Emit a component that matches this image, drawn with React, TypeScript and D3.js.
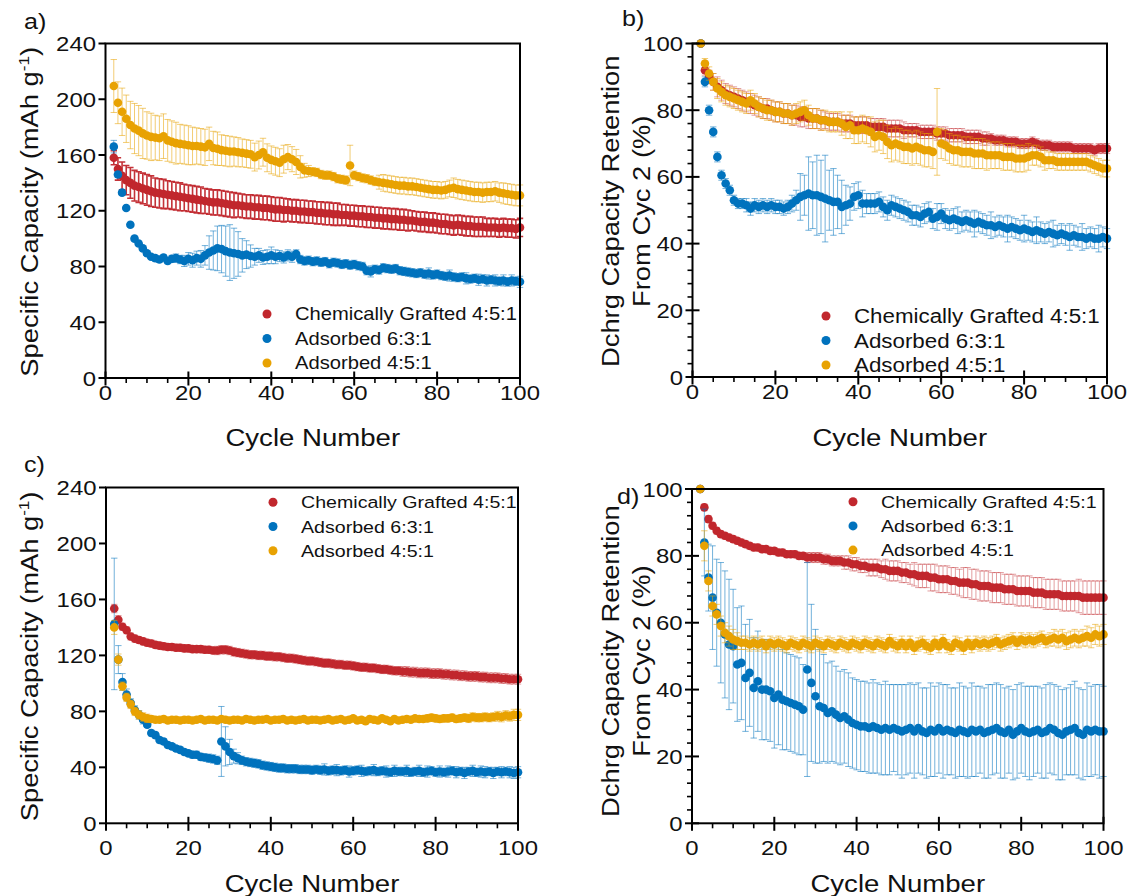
import React from "react";
import * as d3 from "d3";

// ---------- data ----------
const cycles = d3.range(2, 101);
const seriesNames = ["Chemically Grafted 4:5:1", "Adsorbed 6:3:1", "Adsorbed 4:5:1"];
const cycleTicks = [0, 20, 40, 60, 80, 100];
const capacityTicks = [0, 40, 80, 120, 160, 200, 240];
const retentionTicks = [0, 20, 40, 60, 80, 100];

const aRed = [158,150,145,142,140,138,137,136,135,134,
133,132.5,132,131.5,131,130.5,130,129.5,129,128.5,
128,127.5,127,126.5,126,126,125.5,125,124.5,124,
124,123.5,123,123,122.5,122.5,122,122,121.5,121,
121,120.5,120.5,120,120,119.5,119.5,119,119,118.5,
118.5,118,118,117.5,117.5,117,117,116.5,116.5,116,
116,115.5,115.5,115,115,114.5,114.5,114,114,113.5,
113.5,113,113,112.5,112,112,111.5,111.5,111,110.5,
110.5,110,109.5,110,109.5,109,109,108.5,108.5,108.5,
108,108,108,107.5,108,107.5,107.5,107,108];
const aRedErr = [5,8,10,10.5,11,11,11,11,11,11,
10.5,10.5,10.5,10,10,10,10,9.5,9.5,9.5,
9.5,9.5,9,9,9,9,9,9,9,9,
8.5,8.5,8.5,8.5,8.5,8.5,8.5,8.5,8.5,8.5,
8.5,8.5,8,8,8,8,8,8,8,8,
8,8,8,8,8,7.5,7.5,7.5,7.5,7.5,
7.5,7.5,7.5,7.5,7.5,7.5,7.5,7.5,7.5,7.5,
7.5,7.5,7,7,7,7,7,7,7,7,
7,7,7,7,7,7,7,7,7,7,
6.5,6.5,6.5,6.5,6.5,6.5,6.5,6.5,6.5];
const aBlue = [166,146,133,122,110,100,96.5,93,89.5,87,
86,85,86.5,84,85.5,86,85,84,85.5,84.5,
86,85.5,88,90,91.5,93,92.5,91,90,89.5,
89,88,88.5,87.5,87,88,86.5,87,88,87,
87.5,86.5,88,87,89,85,84,84.5,83.5,84,
83,83.5,82,83,82.5,81.5,82,81,81.5,80.5,
80,77,76.5,78,77.5,79,78.5,78,78.5,77,
76.5,76,75.5,75,75.5,74.5,75,74,74.5,73.5,
73,73.5,72.5,72,72.5,71.5,71,71.5,70.5,71,
70,70.5,70,69.5,70,69,70,69.5,69];
const aBlueErr = [4.5,2,1.5,1.5,1.5,1.5,1.5,1.5,1.5,1.5,
2,2,2,2,2.5,3,3,4,4.5,5,
5,6,7,12,14,16,17,18,20,18,
16,12,10,8,6,5,5,5,6,5,
4,4,4,4,3,3,3,3,3,3,
3,3,3,3,3,3,3,3,3,3,
3,3,4,3,3,3,3,3,3,3,
3,3,3,3,3,3,4,3,3,3,
3,4,3,3,3,4,3,3,4,3,
4,3,4,3,4,3,4,3,4];
const aOrange = [209.5,197.5,191,186,181.5,179,177.5,175.5,174,173,
172.5,172,173.5,170.5,169.5,168.5,168,167.5,167,166.5,
166.5,166,165.5,168,165,164.5,163.5,163,162.5,162.5,
162,161.5,161,160.5,158.5,160,162,158,156.5,155.5,
154.5,157,158.5,157,155,151.5,149,148.5,148,147.5,
146,145.5,145.5,144.5,143,142.5,142,152.5,145.5,144.5,
143.5,143,142,141,140.5,140,139.5,139,138.5,138,
138,137.5,137.5,137,136.5,136,135.5,135,135,134.5,
135,136,136.5,135.5,135,134.5,134,133.5,133.5,133,
133.5,133.5,134,133,132.5,132,131.5,131,131];
const aOrangeErr = [19,15,17,17,17,18,18,18,17,17,
16,16,16,15,15,15,14,14,14,13.5,
13,13,13,12,12,12,11,11,11,10.5,
10.5,10,10,10,10,10,10,10,10,10,
10,10,9,9,9,8,5,4,3,3,
3,3,3,3,3,3,3,14.5,3,3,
3,3,3,3,5,6,6,6,6,6,
6,6,6,6,6,6,6,6,6,6,
6,6,7,7,7,7,7,7,7,7,
7,7,7,7,7.5,7.5,7.5,7.5,7.5];

const bRed = [100,92,90,88.5,87,86,85,84.5,84,83.5,
83,82.5,82,81.5,81,80.5,80.5,80,79.5,79.5,
79,79,78.5,78.5,78,78,77.5,77.5,77.5,77,
77,76.5,76.5,76.5,76,76,76,75.5,75.5,75.5,
75.5,75,75,75,75,74.5,74.5,74.5,74.5,74,
74,74,74,73.5,73.5,73.5,73.5,73,73,73,
72.5,72.5,72.5,72.5,72,72,72,72,71.5,71.5,
71.5,71,71,71,70.5,70.5,70.5,70,70,70,
70.5,70,69.5,69.5,69.5,69,69,69,69,69,
68.5,68.5,68.5,68.5,68.5,68,68.5,68.5,68.5];
const bRedErr = [0,1.5,2,2.5,3,3,3,3,3,3,
3,3,3,3,3,3,3,3,3,3,
3,3,3,3,3,3,3,3,3,3,
2.5,2.5,2.5,2.5,2.5,2.5,2.5,2.5,2.5,2.5,
2.5,2.5,2.5,2.5,2.5,2.5,2.5,2.5,2.5,2.5,
2,2,2,2,2,2,2,2,2,2,
2,2,2,2,2,2,2,2,2,2,
1.5,1.5,1.5,1.5,1.5,1.5,1.5,1.5,1.5,1.5,
1.5,1.5,1.5,1.5,1.5,1.5,1.5,1.5,1.5,1.5,
1.5,1.5,1.5,1.5,1.5,1.5,1.5,1.5,1.5];
const bBlue = [100,88.5,80,73.5,66,60.5,58,56,53,52,
52,51.5,50.5,51.5,51,51.5,51,51.5,51,51,
50.5,51,52,53,54,54.5,55,54.5,54.5,54,
53.5,53,52.5,52.5,51,51.5,52,54,54.5,52,
52,52,52,52.5,51,50,51.5,51,50.5,50,
49.5,48.5,48.5,48,49,49.5,47.5,48,49,47.5,
47,47.5,47,46.5,47,46.5,46,46.5,46,45.5,
45.5,45,45.5,45,44.5,45,44.5,44,44.5,44,
43.5,44,43.5,43,43.5,43,42.5,43,42.5,42,
42.5,42,42,41.5,42,41.5,41.5,42,41.5];
const bBlueErr = [0,1.5,1.5,1.5,1.5,1.5,1.5,1.5,1.5,1.5,
1.5,2,2,2,2,2,2,2,2,2,
2,2,2.5,3,7,6,11,10,12,11,
13,9,10,8,8,6,5,4,4,4,
3,3,3,3,3,3,3,3,3,3,
3,3,3,3,3,3,3,4,3,3,
3,3,4,3,3,3,4,3,3,3,
4,3,3,3,4,3,3,3,4,3,
3,4,3,3,3,4,3,3,3,4,
3,3,4,3,3,3,4,3,3];
const bOrange = [100,94,91,88.5,86.5,85.5,84.5,84,83.5,83,
82.5,82,83,82,81,80.5,80,80,79.5,79.5,
79,79,78.5,79,79.5,80,78.5,77.5,77.5,77,
77,76.5,76.5,76.5,76,75,75.5,74,74,74.5,
74,73.5,72,72.5,72,70.5,69.5,70,69.5,69,
69,68.5,69,68.5,68,68,67.5,73.5,70,69.5,
68.5,68,68,67.5,67.5,67.5,67,67,67,66.5,
66.5,66.5,66.5,66,66,66,65.5,65.5,65.5,66,
66.5,66.5,66,65,65,65,64.5,64.5,64.5,64.5,
64.5,64.5,64.5,64.5,64,63.5,63,62.5,62.5];
const bOrangeErr = [0,1.5,2,2.5,3,3,3,3,3,3,
3,3,3,3,3,3,3,3,3,3,
3,3,3,3,3,3,3,3,3,3,
3,3,3,3,3.5,3.5,4,4,4,4,
4,4.5,4.5,4.5,5,5,5,5,5,5,
5,5,5,5,5,5,5,13,4.5,4.5,
4.5,4.5,4.5,4.5,4.5,4.5,4.5,4.5,4.5,4.5,
4,4,4,4,4,4,4,4,4,4,
3,3,3,3,2.5,2.5,2.5,2.5,2.5,2.5,
2.5,2.5,2.5,2.5,2.5,2.5,2.5,2.5,2.5];

const cRed = [153.5,145.5,140.5,138,133.5,132,131,130,129,128.5,
127.5,127,126.5,126,126,125.5,125.5,125,125,124.5,
124.5,124.5,124,124,123.5,123.5,124,124,123.5,122.5,
122,121.5,121,120.5,120.5,120,120,119.5,119.5,119,
119,118.5,118,118,117.5,117,116.5,116,116,115.5,
115,114.5,114.5,114,113.5,113.5,113,113,112.5,112,
111.5,111.5,111,111,110.5,110,110,109.5,109,109,
108.5,108.5,108,108,107.5,107.5,107.5,107,107,107,
106.5,106.5,106,106,105.5,105.5,105,105,105,104.5,
104.5,104,104,104,103.5,103.5,103,103,103];
const cRedErr = [3,3,2.5,2.5,2.5,2.5,2.5,2.5,2.5,2.5,
2.5,2.5,2.5,2.5,2.5,2.5,2.5,2.5,2.5,2.5,
2.5,2.5,2.5,2.5,2.5,3,3,3,3,3,
3,3,3,3,3,3,3,3,3,3,
3,3,3,3,3,3,3,3,3,3,
3,3,3,3,3,3,3,3,3,3,
3,3,3,3,3,3,3,3,3,3,
3.5,3.5,3.5,3.5,3.5,3.5,3.5,3.5,3.5,3.5,
3.5,3.5,3.5,3.5,3.5,3.5,3.5,3.5,3.5,3.5,
3.5,3.5,3.5,3.5,3.5,3.5,3.5,3.5,3.5];
const cBlue = [142.5,117,101,92,86,81,77.5,74,70.5,64.5,
63,59.5,58.5,56,55,53.5,52.5,51,50,49,
49,47.5,47,46.5,46,45,58.5,55,51,48,
46.5,45,44,43.5,43,42.5,41.5,41,40.5,40,
39.5,39.5,39,39,39,38.5,38.5,38.5,38,38.5,
38,38.5,37.5,38,38,37.5,38,37,37.5,38,
37.5,37,37.5,38,37,37.5,37,36.5,37.5,37,
37,37.5,36.5,37,37.5,36.5,37,37.5,36.5,37,
36.5,37,37.5,36.5,37,36,37,37.5,36.5,37,
36.5,37,36,37,36.5,37,36.5,36,36.5];
const cBlueErr = [47,10,6,4,3,3,3,3,2,2,
2,2,2,2,2,2,2,2,2,2.5,
2.5,2.5,2.5,3,3,3,25,14,9,5,
4,3,3,3,3,3,3,3,3,3,
3,3,3,3,3,3,3,3,3,3,
3,4,3,3,4,3,3,4,3,3,
4,3,3,4,3,3,4,3,4,3,
3,4,3,3,4,3,4,3,3,4,
3,4,3,4,3,4,3,4,3,4,
4,3,4,3,4,3,4,4,4];
const cOrange = [140,117,98,90,85,80,77.5,76,75,74.5,
74,74,74.5,73.5,74,74,73.5,74,74,73.5,
74,74.5,73.5,74,74,73.5,74.5,74,73.5,74,
74,73.5,74.5,74,73.5,74,74,74.5,73.5,74,
74,74.5,73.5,74,73.5,74,74.5,73.5,74,74,
73.5,74,74.5,73.5,74,74.5,73.5,74,75,73.5,
74,73,74.5,74,73.5,75,74,73,74.5,73.5,
74,74.5,74,75,74.5,74.5,75,75.5,75,74.5,
75,75,75.5,74.5,75,75.5,75,76,75.5,75.5,
76,75.5,76,76.5,76,77,76.5,77.5,77.5];
const cOrangeErr = [5,4,3,3,3,3,3,3,3,2.5,
2,2,2,2,2,2,2,2,2,2,
2,2,2,2,2,2,2,2,2,2,
2,2,2,2,2,2,2,2,2,2,
2,2,2,2,2,2,2,2,2,2,
2,2,2,2,2,2,2,2,2,2,
2,2,2,2,2,2,2,2,2,2,
2,2,2,2,2,2,2.5,2.5,2.5,2.5,
2.5,2.5,2.5,2.5,2.5,2.5,3,3,3,3,
3,3,3,3.5,3.5,3.5,3.5,4,4];

const dRed = [100,94.5,91,89,87.5,86.5,86,85.5,85,84.5,
84,83.5,83,82.5,82.5,82,82,81.5,81.5,81,
81,80.5,80.5,80.5,80,80,79.5,79.5,79.5,79.5,
79,79,78.5,78.5,78.5,78,78,77.5,77.5,77,
77,76.5,76.5,76.5,76,76,75.5,75.5,75.5,75,
75,74.5,74.5,74,74,74,73.5,73.5,73,73,
73,72.5,72.5,72,72,72,71.5,71.5,71,71,
71,70.5,70.5,70.5,70,70,70,69.5,69.5,69.5,
69.5,69,69,69,68.5,68.5,68.5,68.5,68,68,
68,68,68,67.5,67.5,67.5,67.5,67.5,67.5];
const dRedErr = [0,1,1,1,1,1,1,1,1,1,
1,1,1,1,1,1,1,1,1,1,
1,1,1,1,1,1,1.5,1.5,1.5,1.5,
1.5,1.5,1.5,1.5,1.5,2,2,2,2,2,
2,2.5,2.5,2.5,2.5,3,3,3,3,3,
3,3,3.5,3.5,3.5,3.5,4,4,4,4,
4,4,4,4,4.5,4.5,4.5,4.5,4.5,4.5,
4.5,4.5,4.5,4.5,4.5,4.5,4.5,4.5,4.5,4.5,
4.5,4.5,4.5,4.5,4.5,4.5,4.5,4.5,4.5,4.5,
4.5,4.5,5,5,5,5,5,5,5];
const dBlue = [100,84,73.5,67.5,63,60,56.5,53.5,53,47.5,
48,43.5,45,40.5,42.5,40,40,39.5,37.5,38.5,
37,36.5,36,35.5,35,34,46,42,38,35,
34.5,33,33.5,32.5,31.5,32,31,30,29.5,29,
29,28.5,29,28.5,28,28.5,28,28.5,28,27.5,
28,28.5,27.5,28.5,27.5,27,28,27.5,28.5,27.5,
28,27.5,27,28,27.5,27,28,27.5,28,27,
27.5,28,28.5,27.5,27,28,26.5,27.5,28.5,27.5,
27,27.5,28,27,27.5,28.5,28,27,26.5,27.5,
28,28.5,27,26.5,28,27.5,28,27.5,27.5];
const dBlueErr = [0,10,10,15.5,16,18,19,19.5,17,17,
17,16,16,15,15,15,15,15,15,15,
15,14.5,14.5,14.5,14.5,13.5,32,23.5,20,17,
16,15,15,14.5,14,14,14,13.5,13.5,13.5,
13.5,13.5,14,13.5,13.5,14,13.5,13,13.5,14,
13.5,13.5,14,13.5,13,13.5,14,13.5,13.5,14,
13.5,13,13.5,14,13.5,13.5,14,13.5,13,13.5,
14,13.5,13.5,14,13.5,13,13.5,14,13.5,13.5,
14,13.5,13,13.5,14,13.5,13.5,14,13.5,13,
13.5,14,13.5,13.5,14,13.5,13.5,14,13.5];
const dOrange = [100,83,72.5,65,62.5,59,57,56,55,54.5,
54,54,53.5,54,53.5,54,53,54,53.5,54,
53.5,53,54,53.5,53,54,53.5,53,54,53.5,
53,54,53.5,53,54,53.5,53,54,53.5,53,
54,53.5,53,54,53.5,53,54.5,53.5,53,54,
53,54,52.5,53.5,54,53,52.5,54,53,54.5,
53,52.5,54,53.5,52.5,54,53,54,53.5,54,
53.5,54,54.5,53.5,54,54.5,55,54,55,54.5,
55,54.5,55,55.5,54.5,55,55.5,55,55.5,54.5,
55,55.5,55,55.5,56,55.5,56.5,56,56.5];
const dOrangeErr = [0,4.5,3,3,3,3,3,3,3,2.5,
2,2,2,2,2,2,2,2,2,2,
2,2,2,2,2,2,2,2,2,2,
2,2,2,2,2,2,2,2,2,2,
2,2,2,2,2,2,2,2,2,2,
2,2,2,2,2,2,2,2,2,2,
2,2,2,2,2,2,2,2,2,2,
2,2,2,2,2,2,2,2,2,2,
2,2,2,2,2,2,2.5,2.5,2.5,2.5,
2.5,2.5,2.5,2.5,3,3,3,3,3];

// ---------- styles ----------
const COLORS = ["#C1272D", "#0072BD", "#E8A202"];
const FONT = "'Liberation Sans', Arial, Helvetica, sans-serif";
const SX = 1.14; // lettering in the reference is wider than plain Arial

type Series = { v: number[]; e: number[]; color: string; errOpacity: number; errWidth: number };
type PanelCfg = {
  label: string; left: number; right: number; top: number; bottom: number;
  yMax: number; yTicks: number[]; yMinor: number | null; kind: "cap" | "ret";
  series: Series[]; legendX: number; legendY: number; legendStep: number; legendSize: number;
  labelX: number; labelY: number; xLabelDy: number; xTitleY: number; yTitleX: number; yTitleDy: number;
};

const mk = (v: number[], e: number[], i: number, op: number, w = 1): Series => ({ v, e, color: COLORS[i], errOpacity: op, errWidth: w });

const panels: PanelCfg[] = [
  { label: "a)", left: 105.5, right: 520, top: 43.5, bottom: 378, yMax: 240, yTicks: capacityTicks, yMinor: null, kind: "cap",
    series: [mk(aRed, aRedErr, 0, 0.95, 1.6), mk(aBlue, aBlueErr, 1, 0.55), mk(aOrange, aOrangeErr, 2, 0.55)],
    legendX: 267, legendY: 314, legendStep: 24.5, legendSize: 17.7,
    labelX: 24, labelY: 28.5, xLabelDy: 22, xTitleY: 446, yTitleX: 38, yTitleDy: 1 },
  { label: "b)", left: 692.5, right: 1107, top: 43.5, bottom: 377, yMax: 100, yTicks: retentionTicks, yMinor: 4, kind: "ret",
    series: [mk(bRed, bRedErr, 0, 0.45), mk(bBlue, bBlueErr, 1, 0.55), mk(bOrange, bOrangeErr, 2, 0.55)],
    legendX: 826, legendY: 316, legendStep: 24.5, legendSize: 19.6,
    labelX: 622, labelY: 26, xLabelDy: 22, xTitleY: 446, yTitleX: 618.5, yTitleDy: 1 },
  { label: "c)", left: 106, right: 518, top: 487.5, bottom: 823.3, yMax: 240, yTicks: capacityTicks, yMinor: null, kind: "cap",
    series: [mk(cRed, cRedErr, 0, 0.45), mk(cBlue, cBlueErr, 1, 0.55), mk(cOrange, cOrangeErr, 2, 0.55)],
    legendX: 273, legendY: 502.3, legendStep: 24.2, legendSize: 17.2,
    labelX: 24, labelY: 472, xLabelDy: 31.5, xTitleY: 892, yTitleX: 38, yTitleDy: 1 },
  { label: "d)", left: 692, right: 1103.5, top: 489, bottom: 823.3, yMax: 100, yTicks: retentionTicks, yMinor: 4, kind: "ret",
    series: [mk(dRed, dRedErr, 0, 0.45), mk(dBlue, dBlueErr, 1, 0.55), mk(dOrange, dOrangeErr, 2, 0.55)],
    legendX: 853, legendY: 501.7, legendStep: 24.2, legendSize: 17.2,
    labelX: 617, labelY: 504, xLabelDy: 31.5, xTitleY: 892, yTitleX: 618.5, yTitleDy: 5 },
];

// stretched text helper (stretch is along the reading direction)
function T({ x, y, size, anchor = "start", rotate = false, dy, children }: any) {
  return (
    <text
      transform={`translate(${x},${y})${rotate ? " rotate(-90)" : ""} scale(${SX},1)`}
      textAnchor={anchor}
      dy={dy}
      fontSize={size}
      fontFamily={FONT}
      fill="#111"
    >
      {children}
    </text>
  );
}

function Panel({ p }: { p: PanelCfg }) {
  const x = d3.scaleLinear().domain([0, 100]).range([p.left, p.right]);
  const y = d3.scaleLinear().domain([0, p.yMax]).range([p.bottom, p.top]);
  const xMinor = d3.range(0, 101, 5).filter((v) => v % 20 !== 0);
  const yMinor = p.yMinor ? d3.range(0, p.yMax + 0.001, p.yMinor).filter((v) => v % 20 !== 0) : [];
  const midY = (p.top + p.bottom) / 2 + p.yTitleDy;
  const midX = (p.left + p.right) / 2;
  const cap = 3.2;
  return (
    <g>
      {p.series.map((s, si) => (
        <g key={si}>
          <g stroke={s.color} strokeOpacity={s.errOpacity} strokeWidth={s.errWidth} fill="none">
            {cycles.map((c, i) => {
              const e = s.e[i];
              if (!e) return null;
              const cx = x(c), y1 = y(s.v[i] + e), y2 = y(s.v[i] - e);
              return (
                <path key={i} d={`M${cx},${y1}V${y2}M${cx - cap},${y1}H${cx + cap}M${cx - cap},${y2}H${cx + cap}`} />
              );
            })}
          </g>
          <g fill={s.color}>
            {cycles.map((c, i) => (
              <circle key={i} cx={x(c)} cy={y(s.v[i])} r={4.3} />
            ))}
          </g>
        </g>
      ))}
      <rect x={p.left} y={p.top} width={p.right - p.left} height={p.bottom - p.top} fill="none" stroke="#000" strokeWidth={2} />
      {cycleTicks.map((t) => (
        <g key={t}>
          <line x1={x(t)} x2={x(t)} y1={p.bottom - 6.5} y2={p.bottom + 7.5} stroke="#000" strokeWidth={2} />
          <T x={x(t)} y={p.bottom + p.xLabelDy} size={21} anchor="middle">{t}</T>
        </g>
      ))}
      {xMinor.map((t) => (
        <line key={t} x1={x(t)} x2={x(t)} y1={p.bottom} y2={p.bottom + 5} stroke="#000" strokeWidth={1.6} />
      ))}
      {p.yTicks.map((t) => (
        <g key={t}>
          <line x1={p.left - 7} x2={p.kind === "ret" ? p.left + 7 : p.left} y1={y(t)} y2={y(t)} stroke="#000" strokeWidth={2} />
          <T x={p.left - 9.5} y={y(t)} dy="0.36em" size={21} anchor="end">{t}</T>
        </g>
      ))}
      {yMinor.map((t) => (
        <line key={t} x1={p.left - 5} x2={p.left} y1={y(t)} y2={y(t)} stroke="#000" strokeWidth={1.6} />
      ))}
      <T x={midX} y={p.xTitleY} size={24.2} anchor="middle">Cycle Number</T>
      {p.kind === "cap" ? (
        <T x={p.yTitleX} y={midY} size={24} anchor="middle" rotate>
          Specific Capacity (mAh g<tspan dy={-9} fontSize={15}>-1</tspan><tspan dy={9}>)</tspan>
        </T>
      ) : (
        <g>
          <T x={p.yTitleX} y={midY} size={24} anchor="middle" rotate>Dchrg Capacity Retention</T>
          <T x={p.yTitleX + 31} y={midY} size={24} anchor="middle" rotate>From Cyc 2 (%)</T>
        </g>
      )}
      <T x={p.labelX} y={p.labelY} size={22}>{p.label}</T>
      {seriesNames.map((n, i) => (
        <g key={n}>
          <circle cx={p.legendX} cy={p.legendY + i * p.legendStep} r={4.5} fill={COLORS[i]} />
          <T x={p.legendX + 28} y={p.legendY + i * p.legendStep} dy="0.36em" size={p.legendSize}>{n}</T>
        </g>
      ))}
    </g>
  );
}

export default function App() {
  return (
    <svg width={1133} height={896} style={{ position: "absolute", left: 0, top: 0, background: "#fff" }}>
      <rect width={1133} height={896} fill="#fff" />
      {panels.map((p) => (
        <Panel key={p.label} p={p} />
      ))}
    </svg>
  );
}
